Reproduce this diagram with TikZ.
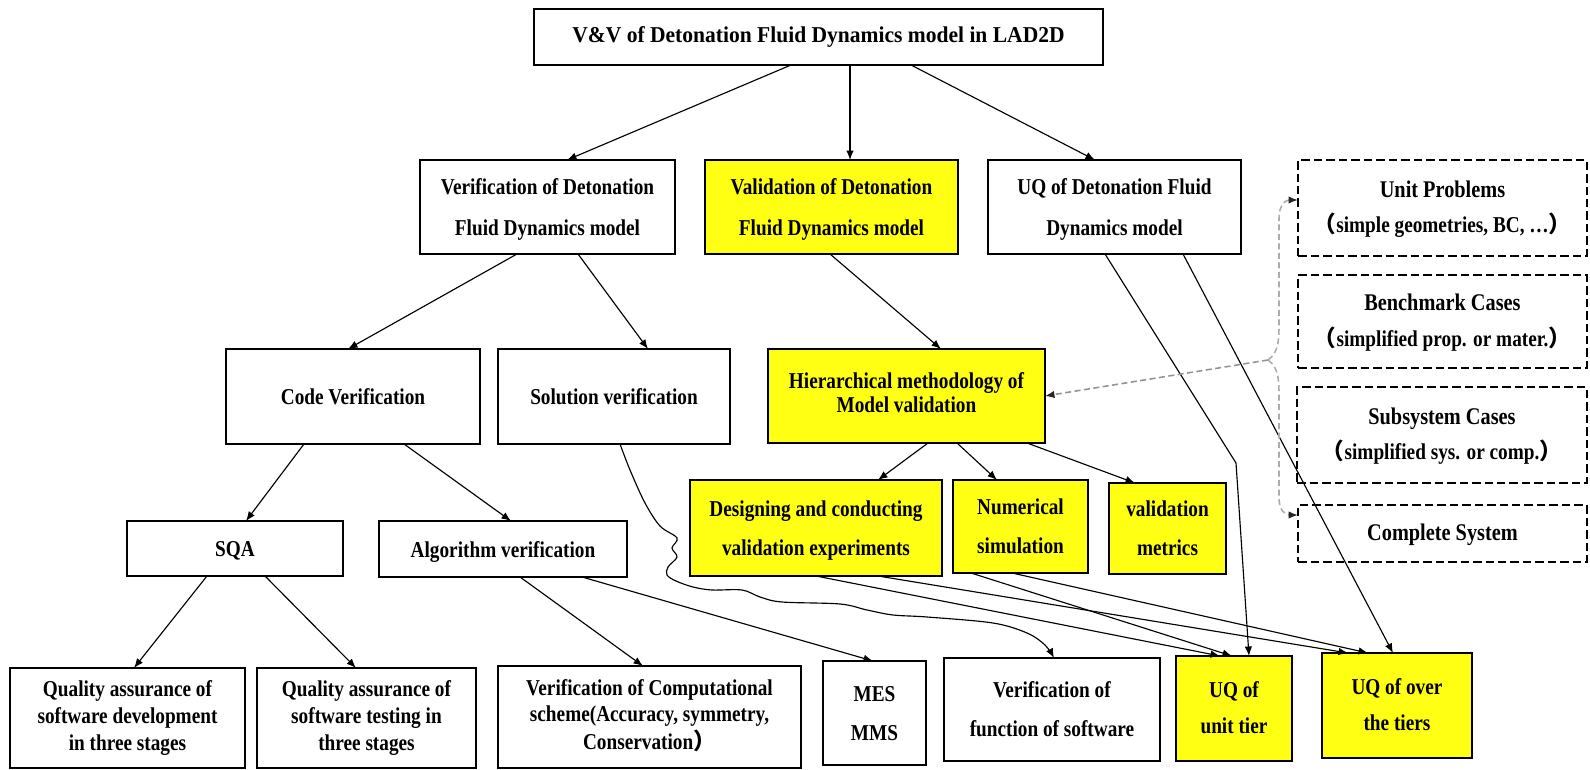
\documentclass[tikz,border=0pt]{standalone}
\usepackage{fontspec}
\setmainfont{Liberation Serif}
\newfontfamily\condfont{Liberation Serif}[FakeStretch=0.85]
\newfontfamily\titlefont{Liberation Serif}[FakeStretch=0.95]
\newfontfamily\cjk{Noto Sans CJK SC}
\usetikzlibrary{arrows.meta,calc}
\definecolor{boxyellow}{RGB}{255,255,20}
% centred stack of lines inside a box
\newcommand\boxlines[1]{\begin{tabular}{@{}c@{}}#1\end{tabular}}

\begin{document}
\begin{tikzpicture}[x=0.02cm,y=-0.02cm,
  box/.style={draw=black, line width=1.1pt, inner sep=0pt, outer sep=0pt,
    font=\condfont\bfseries\fontsize{12.9}{23}\selectfont},
  hl/.style={box, fill=boxyellow},
  dbox/.style={box, dash pattern=on 0.17cm off 0.08cm},
  ls39/.style={font=\condfont\bfseries\fontsize{12.9}{22.2}\selectfont},
  ls35/.style={font=\condfont\bfseries\fontsize{12.9}{20.2}\selectfont},
  ls27/.style={font=\condfont\bfseries\fontsize{12.9}{15.2}\selectfont},
  ls24/.style={font=\condfont\bfseries\fontsize{12.9}{13.8}\selectfont},
  conn/.style={draw=black, line width=0.65pt, -{Latex[length=0.19cm,width=0.15cm]}},
  gd/.style={draw=gray!65, line width=0.9pt, dash pattern=on 0.12cm off 0.07cm,
    -{Latex[length=0.19cm,width=0.15cm,color=black!85]}}
]
\path[use as bounding box] (0,0) rectangle (1590,770);

% top level
\node[box, minimum width=11.38cm, minimum height=1.12cm,
  font=\titlefont\bfseries\fontsize{12.9}{15}\selectfont] (title) at (818.5,37)
  {\boxlines{V\&V of Detonation Fluid Dynamics model in LAD2D}};

% second level
\node[box, minimum width=5.10cm, minimum height=1.88cm] (verif) at (547.5,207)
  {\boxlines{Verification of Detonation\\Fluid Dynamics model}};
\node[hl, minimum width=5.06cm, minimum height=1.88cm] (valid) at (831.5,207)
  {\boxlines{Validation of Detonation\\Fluid Dynamics model}};
\node[box, minimum width=5.06cm, minimum height=1.88cm] (uq) at (1114.5,207)
  {\boxlines{UQ of Detonation Fluid\\Dynamics model}};

% validation hierarchy tiers
\node[dbox, ls35, minimum width=5.78cm, minimum height=1.92cm] (unit) at (1442.5,208)
  {\boxlines{{\fontsize{13.6}{20.2}\selectfont Unit Problems}\\{\cjk （}simple geometries, BC, …{\cjk ）}}};
\node[dbox, ls35, minimum width=5.78cm, minimum height=1.86cm] (bench) at (1442.5,321.5)
  {\boxlines{{\fontsize{13.6}{20.2}\selectfont Benchmark Cases}\\{\cjk （}simplified prop. or mater.{\cjk ）}}};
\node[dbox, ls35, minimum width=5.80cm, minimum height=1.92cm] (subsys) at (1442,435)
  {\boxlines{{\fontsize{13.6}{20.2}\selectfont Subsystem Cases}\\{\cjk （}simplified sys. or comp.{\cjk ）}}};
\node[dbox, minimum width=5.78cm, minimum height=1.14cm,
  font=\condfont\bfseries\fontsize{13.6}{20}\selectfont] (complete) at (1442.5,533.5)
  {\boxlines{Complete System}};

% third level
\node[box, minimum width=5.08cm, minimum height=1.90cm] (code) at (353,396.5)
  {\boxlines{Code Verification}};
\node[box, minimum width=4.64cm, minimum height=1.90cm] (sol) at (614,396.5)
  {\boxlines{Solution verification}};
\node[hl, ls24, minimum width=5.54cm, minimum height=1.88cm] (hier) at (906.5,396)
  {\boxlines{Hierarchical methodology of\\Model validation}};

% fourth level
\node[box, minimum width=4.32cm, minimum height=1.10cm] (sqa) at (235,548.5)
  {\boxlines{SQA}};
\node[box, minimum width=4.96cm, minimum height=1.12cm] (alg) at (503,549)
  {\boxlines{Algorithm verification}};
\node[hl, ls39, minimum width=5.04cm, minimum height=1.92cm] (design) at (816,528)
  {\boxlines{Designing and conducting\\validation experiments}};
\node[hl, ls39, minimum width=2.70cm, minimum height=1.86cm] (numsim) at (1020.5,526.5)
  {\boxlines{Numerical\\simulation}};
\node[hl, ls39, minimum width=2.34cm, minimum height=1.82cm] (metrics) at (1167.5,528.5)
  {\boxlines{validation\\metrics}};

% bottom level
\node[box, ls27, minimum width=4.70cm, minimum height=2.00cm] (qadev) at (127.5,718)
  {\boxlines{Quality assurance of\\software development\\in three stages}};
\node[box, ls27, minimum width=4.38cm, minimum height=2.00cm] (qatest) at (366.5,718)
  {\boxlines{Quality assurance of\\software testing in\\three stages}};
\node[box, ls27, minimum width=6.06cm, minimum height=2.04cm] (comp) at (649.5,717)
  {\boxlines{Verification of Computational\\scheme(Accuracy, symmetry,\\Conservation{\cjk ）}}};
\node[box, ls39, minimum width=2.06cm, minimum height=2.08cm] (mes) at (874.5,713)
  {\boxlines{MES\\MMS}};
\node[box, ls39, minimum width=4.32cm, minimum height=2.06cm] (func) at (1052,709.5)
  {\boxlines{Verification of\\function of software}};
\node[hl, ls35, minimum width=2.32cm, minimum height=2.10cm] (utier) at (1234,708.5)
  {\boxlines{UQ of\\unit tier}};
\node[hl, ls35, minimum width=3.00cm, minimum height=2.10cm] (otier) at (1397,705.5)
  {\boxlines{UQ of over\\the tiers}};

% tree connectors
\draw[conn] (title.south -| 791,0) -- (verif.north -| 567,0);
\draw[conn] (title.south -| 850,0) -- (valid.north -| 850,0);
\draw[conn] (title.south -| 911,0) -- (uq.north -| 1095,0);
\draw[conn] (verif.south -| 517,0) -- (code.north -| 348,0);
\draw[conn] (verif.south -| 578,0) -- (sol.north -| 648,0);
\draw[conn] (valid.south -| 830,0) -- (hier.north -| 941,0);
\draw[conn] (code.south -| 304,0) -- (sqa.north -| 246,0);
\draw[conn] (code.south -| 404,0) -- (alg.north -| 511,0);
\draw[conn] (hier.south -| 928,0) -- (design.north -| 878,0);
\draw[conn] (hier.south -| 957,0) -- (numsim.north -| 997,0);
\draw[conn] (hier.south -| 1027,0) -- (metrics.north -| 1135,0);
\draw[conn] (sqa.south -| 207,0) -- (qadev.north -| 134,0);
\draw[conn] (sqa.south -| 265,0) -- (qatest.north -| 356,0);
\draw[conn] (alg.south -| 520,0) -- (comp.north -| 643,0);
\draw[conn] (alg.south -| 582,0) -- (mes.north -| 873,0);

% validation activities feeding the UQ tiers
\draw[conn] (design.south -| 816,0) -- (utier.north -| 1220,0);
\draw[conn] (design.south -| 878,0) -- (otier.north -| 1348,0);
\draw[conn] (numsim.south -| 971,0) -- (utier.north -| 1232,0);
\draw[conn] (numsim.south -| 1012,0) -- (otier.north -| 1368,0);

% UQ branches
\coordinate (uqbend) at (1236,463);
\draw[conn] (uq.south -| 1105,0) -- (uqbend) -- (utier.north -| 1249,0);
\draw[conn] (uq.south -| 1183,0) -- (otier.north -| 1393,0);

% hand-drawn link from solution verification
\draw[conn] plot[smooth, tension=0.55] coordinates {
  (sol.south -| 620,0) (630,470) (645,503) (660,526) (677,538) (672,548) (677,557)
  (668,567) (667,575) (676,581) (693,587) (712,590) (742,590) (760,597) (782,602)
  (840,604) (867,610) (893,615) (927,617) (993,623) (1027,633) (1045,645)
  (func.north -| 1054,0)};

% link between the hierarchy and its tiers
\coordinate (jn) at (1268,360);
\draw[gd, draw=gray!85] (jn) -- (hier.east);
\draw[gd] (jn) .. controls (1279,352) and (1279,340) .. (1279,322) -- (1279,218)
  .. controls (1279,206) and (1285,200) .. ([yshift=0.16cm]unit.west);
\draw[gd] (jn) .. controls (1279,368) and (1279,380) .. (1279,398) -- (1279,498)
  .. controls (1279,510) and (1285,515) .. ([yshift=0.37cm]complete.west);
\end{tikzpicture}
\end{document}
